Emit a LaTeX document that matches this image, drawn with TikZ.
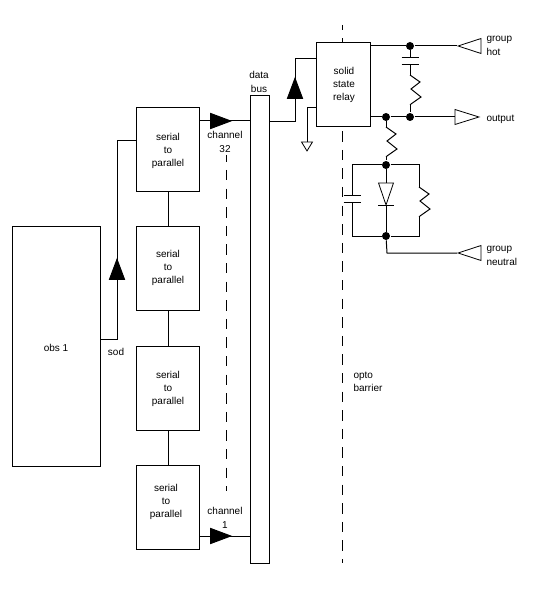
\documentclass[tikz,border=0pt]{standalone}
\usepackage{fontspec}
\setmainfont{Liberation Sans}
\usetikzlibrary{shapes.geometric}

\begin{document}
\begin{tikzpicture}[
    x=1pt, y=-1pt,
    line width=1pt,
    every node/.style={align=center, inner sep=0pt, font=\fontsize{10}{13.3}\selectfont},
    block/.style={rectangle, draw, fill=white, anchor=north west},
    conv/.style={block, minimum width=63pt, minimum height=84pt},
    caption/.style={anchor=center},
    tag/.style={align=left, anchor=west},
    dot/.style={circle, fill=black, minimum size=8pt},
    tri/.style={isosceles triangle, isosceles triangle stretches, draw, line width=0.8pt,
                anchor=apex, minimum width=15pt, minimum height=23pt},
    amp/.style={isosceles triangle, isosceles triangle stretches, draw, fill=black,
                anchor=apex, minimum width=15pt, minimum height=20pt},
    barrier/.style={dash pattern=on 10.4pt off 8.2pt},
    resistor/.pic={
      \draw (0,0) -- (10,7) -- (1,14) -- (11,22) -- (1,29) -- (0,30);
      \coordinate (-a) at (0,0);
      \coordinate (-b) at (0,30);
    },
    capacitor/.pic={
      \draw (-8.5,0) -- (8.5,0) (-8.5,7) -- (8.5,7);
      \coordinate (-a) at (0,0);
      \coordinate (-b) at (0,7);
    },
]

% barrier and channel dashes
\coordinate (barriertop) at (342,25);
\coordinate (barrierbot) at (342,563);
\coordinate (chantop) at (226,155);
\coordinate (chanbot) at (226,491);
\draw[barrier, dash phase=5.4pt] (barriertop) -- (barrierbot);
\draw[barrier, dash phase=3.6pt] (chantop) -- (chanbot);

% blocks
\node [block, minimum width=88pt, minimum height=240pt] (obs) at (12,226) {};
\node [caption] (obstext) at (56,347.5) {obs 1};
\node [conv] (sp1) at (136,107) {};
\node [conv] (sp2) at (136,226) {};
\node [conv] (sp3) at (136,346) {};
\node [conv] (sp4) at (136,465) {};
\node [caption] (sp1text) at (168,151) {serial\\to\\parallel};
\node [caption] (sp2text) at (168,268) {serial\\to\\parallel};
\node [caption] (sp3text) at (168,389) {serial\\to\\parallel};
\node [caption] (sp4text) at (166,502) {serial\\to\\parallel};
\node [block, minimum width=19pt, minimum height=468pt] (bus) at (250,95) {};
\node [block, minimum width=54pt, minimum height=84pt] (relay) at (316,42) {};
\node [caption] (relaytext) at (344,85) {solid\\state\\relay};

% connectors on the left
\draw (sp1) -- (sp2);
\draw (sp2) -- (sp3);
\draw (sp3) -- (sp4);
\coordinate (sodcorner) at (117,339);
\coordinate (sodtop) at (117,141);
\draw (obs.east |- sodcorner) -- (sodcorner) -- (sodtop) -- (sp1.west |- sodtop);
\node [amp, shape border rotate=90] (sodamp) at (117,258) {};

\coordinate (ch32) at (232,121);
\coordinate (ch1) at (232,536);
\draw (sp1.east |- ch32) -- (bus.west |- ch32);
\draw (sp4.east |- ch1) -- (bus.west |- ch1);
\node [amp] (amp32) at (ch32) {};
\node [amp] (amp1) at (ch1) {};

\coordinate (buscorner) at (295,122);
\coordinate (relayin) at (295,59);
\draw (bus.east |- buscorner) -- (buscorner) -- (relayin) -- (relay.west |- relayin);
\node [amp, shape border rotate=90] (relayamp) at (295,77) {};

% ground
\coordinate (gndcorner) at (307,108);
\node [tri, minimum width=11pt, minimum height=9pt, shape border rotate=-90] (gnd) at (307,152) {};
\draw (relay.west |- gndcorner) -- (gndcorner) -- (gnd.lower side);

% output side
\node [tri, shape border rotate=180] (hot) at (457,46) {};
\node [tri, minimum height=24pt] (out) at (480,117) {};
\node [tri, shape border rotate=180] (neutral) at (457,253) {};
\node [dot] (jhot) at (410,46) {};
\node [dot] (jout) at (410,117) {};
\node [dot] (jres) at (386,117) {};
\node [dot] (jtop) at (386,165) {};
\node [dot] (jbot) at (386,236) {};

\draw (relay.east |- jhot) -- (jhot) -- (hot.apex);
\draw (relay.east |- jout) -- (jres) -- (jout) -- (out.lower side);

% snubber
\pic (csnub) at (410,58) {capacitor};
\pic (rsnub) at (410,75) {resistor};
\draw (jhot) -- (csnub-a);
\draw (csnub-b) -- (rsnub-a);
\draw (rsnub-b) -- (jout);

% load network
\pic (rser) at (386,127) {resistor};
\draw (jres) -- (rser-a);
\draw (rser-b) -- (jtop);
\coordinate (lefttop) at (352,165);
\coordinate (leftbot) at (352,236);
\coordinate (righttop) at (419,165);
\coordinate (rightbot) at (419,236);
\pic (cpar) at (352,196) {capacitor};
\pic (rpar) at (419,187) {resistor};
\draw (jtop) -- (lefttop) -- (cpar-a);
\draw (cpar-b) -- (leftbot) -- (jbot);
\draw (jtop) -- (righttop) -- (rpar-a);
\draw (rpar-b) -- (rightbot) -- (jbot);

\node [tri, minimum width=15pt, minimum height=22pt, shape border rotate=-90] (diode) at (386,206) {};
\coordinate (diodebarl) at (378,206);
\coordinate (diodebarr) at (394,206);
\draw (diodebarl) -- (diodebarr);
\draw (jtop) -- (diode.lower side);
\draw (diode.apex) -- (jbot);

\coordinate (neutralcorner) at (387,253);
\draw (jbot) -- (neutralcorner) -- (neutral.apex);

% labels
\node [caption] (sodlabel) at (116,352) {sod};
\node [caption] (buslabel) at (259,82) {data\\bus};
\node [caption] (ch32label) at (225,142) {channel\\32};
\node [caption] (ch1label) at (225,518) {channel\\1};
\node [tag] (hotlabel) at (486,46) {group\\hot};
\node [tag] (outlabel) at (486,119) {output};
\node [tag] (neutrallabel) at (486,256) {group\\neutral};
\node [tag] (barrierlabel) at (353,382) {opto\\barrier};

\useasboundingbox (0,0) rectangle (552,612);
\end{tikzpicture}
\end{document}
